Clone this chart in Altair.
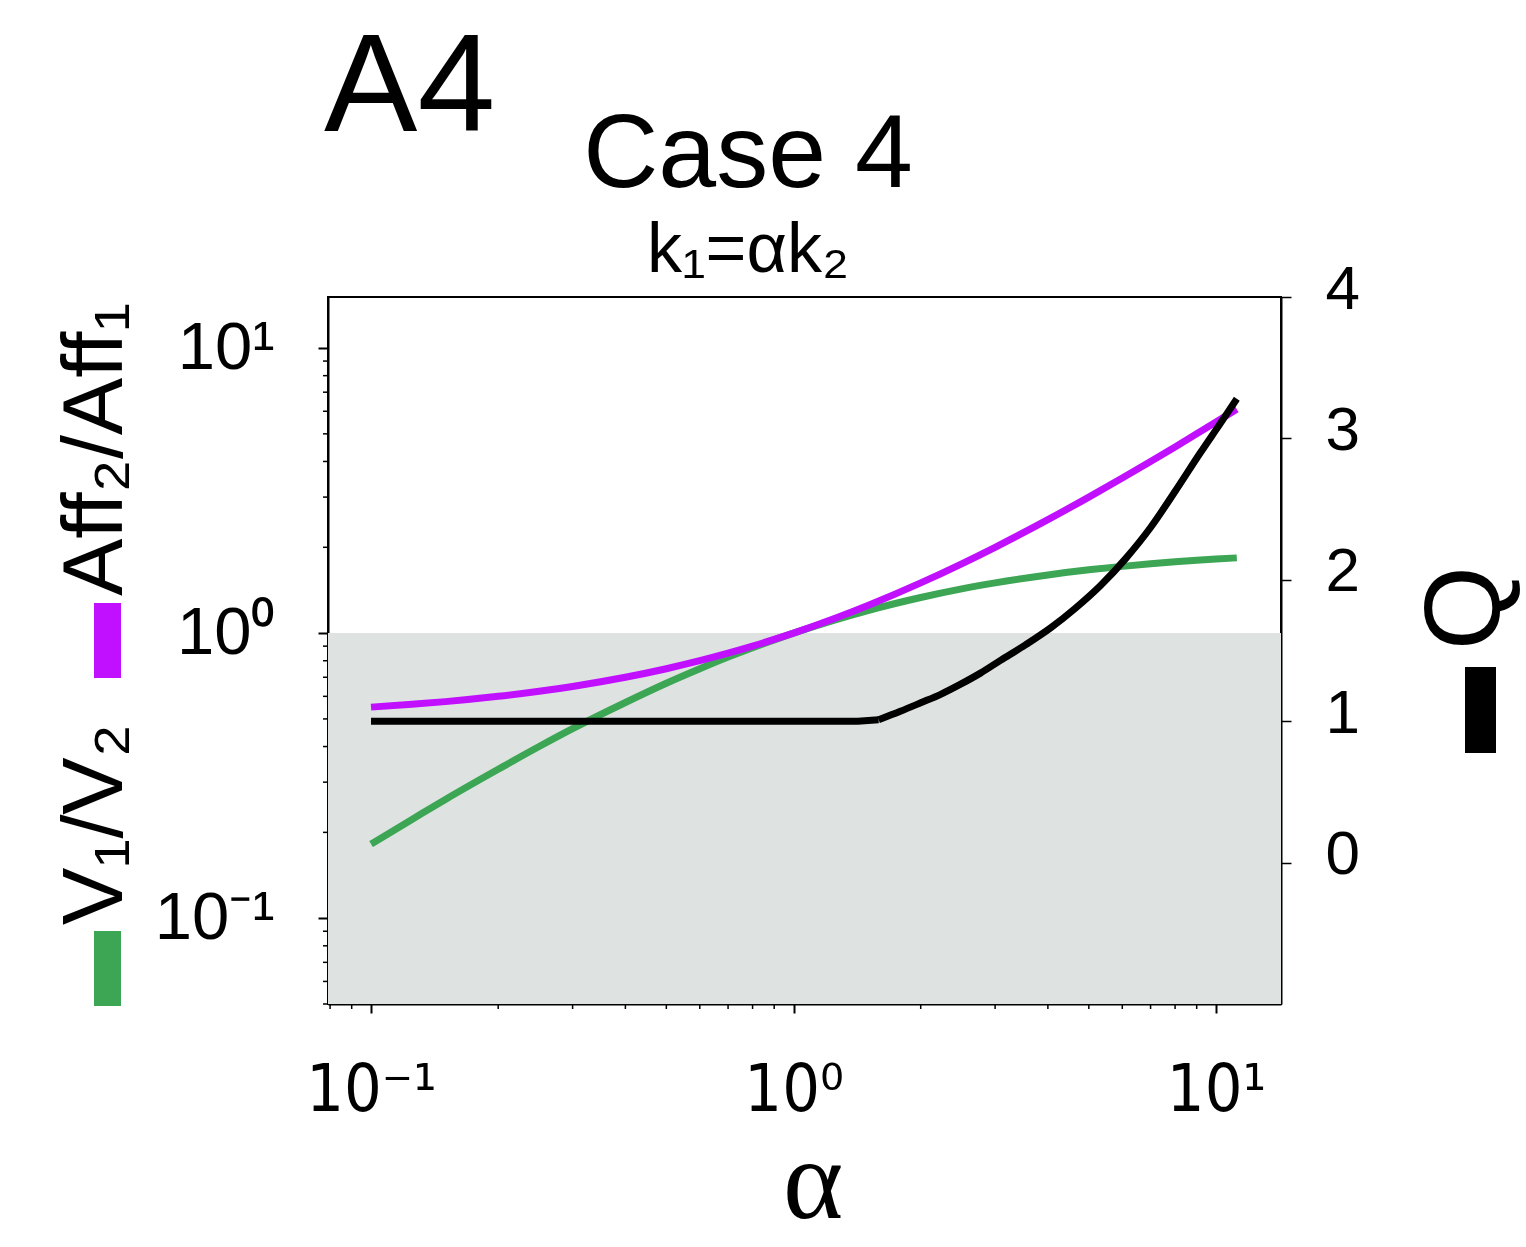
import altair as alt
import pandas as pd

# ---------------- data ----------------
alpha_vals = [0.1, 0.125, 0.15, 0.2, 0.25, 0.3, 0.4, 0.5, 0.6, 0.7, 0.8, 0.9, 1.0,
              1.25, 1.5, 2.0, 2.5, 3.0, 4.0, 5.0, 6.0, 7.0, 8.0, 9.0, 10.0, 11.2]
aff_ratio = [0.55, 0.563, 0.575, 0.60, 0.625, 0.65, 0.70, 0.75, 0.80, 0.85, 0.90, 0.95, 1.0,
             1.125, 1.25, 1.5, 1.75, 2.0, 2.5, 3.0, 3.5, 4.0, 4.5, 5.0, 5.5, 6.1]
v_ratio = [0.182, 0.222, 0.261, 0.333, 0.40, 0.462, 0.571, 0.667, 0.75, 0.824, 0.889, 0.947, 1.0,
           1.111, 1.2, 1.333, 1.429, 1.5, 1.6, 1.667, 1.714, 1.75, 1.778, 1.8, 1.818, 1.836]

# Q: flat plateau, then rising branch (both)
q_flat_alpha = [0.1, 1.42, 1.59]
q_flat_vals = [1.0, 1.0, 1.01]
q_rise_alpha = [1.59, 1.79, 2.0, 2.23, 2.48, 2.77, 3.09, 3.54, 4.06, 4.65,
                5.33, 6.11, 7.0, 8.02, 9.19, 10.26, 11.2]
q_rise_vals = [1.01, 1.07, 1.13, 1.19, 1.26, 1.34, 1.43, 1.54, 1.66, 1.80,
               1.96, 2.15, 2.37, 2.63, 2.90, 3.11, 3.28]

x_major = [0.1, 1, 10]
x_minor = [0.08, 0.09, 0.2, 0.3, 0.4, 0.5, 0.6, 0.7, 0.8, 0.9, 2, 3, 4, 5, 6, 7, 8, 9]
y_major = [0.1, 1, 10]
y_minor = [0.05, 0.06, 0.07, 0.08, 0.09, 0.2, 0.3, 0.4, 0.5, 0.6, 0.7, 0.8, 0.9,
           2, 3, 4, 5, 6, 7, 8, 9]
q_ticks = [0, 1, 2, 3, 4]

shade_top = [1.0]
shade_bottom = [0.05]

# ---------------- frames ----------------
ratio_df = pd.DataFrame({
    "alpha": alpha_vals * 2,
    "value": v_ratio + aff_ratio,
    "series": ["V"] * len(alpha_vals) + ["Aff"] * len(alpha_vals),
})
q_flat_df = pd.DataFrame({"alpha": q_flat_alpha, "Q": q_flat_vals})
q_rise_df = pd.DataFrame({"alpha": q_rise_alpha, "Q": q_rise_vals})
shade_df = pd.DataFrame({"top": shade_top, "bottom": shade_bottom})
xminor_df = pd.DataFrame({"xm": x_minor})
yminor_df = pd.DataFrame({"ym": y_minor})
one = pd.DataFrame({"a": [0]})

W, H = 953, 707
GREEN = "#3ca655"
PURPLE = "#c010ff"
GREY = "#dee3e1"
FONT = "Liberation Sans"
NARROW = "Liberation Sans Narrow, DejaVu Sans Condensed, Liberation Sans"
LW = 7

xscale = alt.Scale(type="log", domain=[0.0791, 14.25], nice=False)
yscale = alt.Scale(type="log", domain=[0.05, 15.1], nice=False)
qscale = alt.Scale(domain=[-1, 4], nice=False, zero=False)

lab_expr = "datum.value < 0.5 ? '10⁻¹' : (datum.value < 5 ? '10⁰' : '10¹')"

xaxis = alt.Axis(values=x_major, labelExpr=lab_expr, title=None, grid=False,
                 tickSize=9, tickWidth=2, tickColor="black",
                 domainColor="black", domainWidth=2,
                 labelFont=NARROW, labelFontSize=66, labelColor="black",
                 labelBaseline="alphabetic", labelPadding=97, labelFlush=False)
yaxis = alt.Axis(values=y_major, labelExpr=lab_expr, title=None, grid=False,
                 tickSize=10, tickWidth=2, tickColor="black",
                 domainColor="black", domainWidth=2,
                 labelFont=FONT, labelFontSize=67, labelColor="black",
                 labelPadding=44, labelFlush=False)
qaxis = alt.Axis(orient="right", values=q_ticks, title=None, grid=False,
                 tickSize=10, tickWidth=1.5, tickColor="black",
                 domainColor="black", domainWidth=2,
                 labelFont=FONT, labelFontSize=62, labelColor="black",
                 labelPadding=34, labelOffset=-8, labelFlush=False)


def X(field):
    return alt.X(field, type="quantitative", scale=xscale, axis=xaxis)


def Y(field):
    return alt.Y(field, type="quantitative", scale=yscale, axis=yaxis)


def QY(field):
    return alt.Y(field, type="quantitative", scale=qscale, axis=qaxis)


shade = alt.Chart(shade_df).mark_rect(color=GREY).encode(
    x=alt.value(0), x2=alt.value(W), y=Y("top"), y2="bottom"
)

xminor = alt.Chart(xminor_df).mark_rule(color="black", strokeWidth=1.5).encode(
    x=X("xm"), y=alt.value(H), y2=alt.value(H + 5)
)
yminor = alt.Chart(yminor_df).mark_rule(color="black", strokeWidth=1.5).encode(
    y=Y("ym"), x=alt.value(-5), x2=alt.value(0)
)

ratio_lines = alt.Chart(ratio_df).mark_line(strokeWidth=LW, interpolate="monotone").encode(
    x=X("alpha"),
    y=Y("value"),
    color=alt.Color("series:N", scale=alt.Scale(domain=["V", "Aff"], range=[GREEN, PURPLE]),
                    legend=None),
    order=alt.Order("alpha:Q"),
)


def txt(text, x, y, size, align="left", angle=0, font=FONT):
    props = dict(text=text, font=font, fontSize=size, align=align,
                 baseline="alphabetic", color="black")
    if angle:
        props["angle"] = angle
    return alt.Chart(one).mark_text(**props).encode(x=alt.value(x), y=alt.value(y))


def bar(x1, x2, y1, y2, color):
    return alt.Chart(one).mark_rect(color=color).encode(
        x=alt.value(x1), x2=alt.value(x2), y=alt.value(y1), y2=alt.value(y2)
    )


annotations = [
    txt("A4", -4, -166, 140),
    txt("Case 4", 420, -110, 104, align="center"),
    txt("k₁=αk₂", 420, -25, 70, align="center"),
    txt("α", 485, 921, 115, align="center", font="Liberation Serif"),
    txt("V₁/V₂", -206, 628, 86, angle=270),
    txt("Aff₂/Aff₁", -206, 299, 86, angle=270),
    txt("Q", 1172, 311, 108, align="center", angle=270),
    bar(-234, -207, 634, 709, GREEN),
    bar(-234, -207, 306, 381, PURPLE),
    bar(1137, 1168, 370, 456, "black"),
]

left_group = alt.layer(shade, xminor, yminor, ratio_lines, *annotations)

q_flat = alt.Chart(q_flat_df).mark_line(strokeWidth=LW, color="black").encode(
    x=X("alpha"), y=QY("Q"), order=alt.Order("alpha:Q"),
)
q_rise = alt.Chart(q_rise_df).mark_line(strokeWidth=LW, color="black",
                                        interpolate="monotone").encode(
    x=X("alpha"), y=QY("Q"), order=alt.Order("alpha:Q"),
)
right_group = alt.layer(q_flat, q_rise)

chart = alt.layer(left_group, right_group).resolve_scale(y="independent").properties(
    width=W, height=H,
    padding={"left": 328, "top": 297, "right": 245, "bottom": 243},
    autosize=alt.AutoSizeParams(type="none"),
    background="white",
).configure_view(stroke="black", strokeWidth=2)

chart.save("out.html", embed_options={"renderer": "svg", "actions": False})
